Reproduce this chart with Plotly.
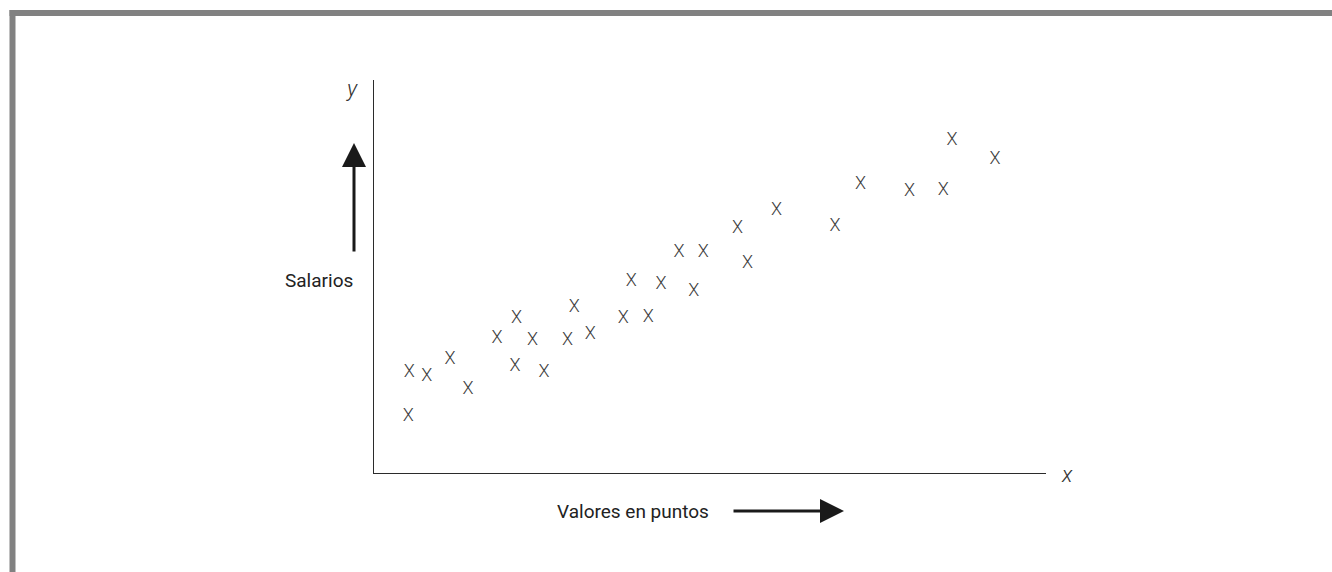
import plotly.graph_objects as go

# Puntuación (valores en puntos) y salario de cada puesto, en unidades relativas 0-100
puntos = [5.25, 7.84, 11.3, 14.0, 5.1, 18.3, 21.2, 21.0, 23.6, 25.3,
          28.8, 29.8, 32.2, 37.1, 38.3, 40.8, 42.7, 45.4, 49.0, 47.6,
          54.1, 55.6, 59.9, 68.6, 72.4, 79.7, 84.7, 86.0, 92.4]
salarios = [25.5, 24.5, 28.9, 21.3, 14.5, 34.1, 39.3, 27.2, 33.7, 25.7,
            33.6, 42.2, 35.3, 39.2, 48.7, 39.6, 48.0, 56.2, 56.1, 46.2,
            62.2, 53.4, 66.7, 62.8, 73.5, 71.6, 72.0, 84.7, 79.8]

W, H = 1332, 572
FONT = "Roboto, Liberation Sans, sans-serif"


def px(x):
    return x / W


def py(y):
    return 1 - y / H


fig = go.Figure()
fig.add_trace(go.Scatter(
    x=puntos, y=salarios, mode="text", text=["X"] * len(puntos),
    textposition="middle center",
    textfont=dict(family=FONT, size=18, color="#3c3c3c", weight=300),
    hoverinfo="skip", showlegend=False,
))

axis_common = dict(showgrid=False, zeroline=False, showticklabels=False,
                   ticks="", showline=True, linecolor="#2b2b2b", linewidth=1.3)
fig.update_xaxes(range=[0, 100], domain=[px(374), px(1046)], **axis_common)
fig.update_yaxes(range=[0, 100], domain=[py(473), py(80)], **axis_common)

annotations = [
    dict(x=px(318.5), y=py(280.5), text="Salarios"),
    dict(x=px(633), y=py(511), text="Valores en puntos"),
]
for a in annotations:
    a.update(xref="paper", yref="paper", showarrow=False,
             xanchor="center", yanchor="middle",
             font=dict(family=FONT, size=19, color="#222222"))

for t, (cx, cy) in (("y", (352, 88)), ("x", (1066.5, 474))):
    annotations.append(dict(
        x=px(cx), y=py(cy), xref="paper", yref="paper", showarrow=False,
        xanchor="center", yanchor="middle",
        text=f"<i>{t}</i>",
        font=dict(family=FONT, size=22, color="#333333", weight=300)))

# flechas de dirección junto a los rótulos de los ejes
arrow_style = dict(xref="paper", yref="paper", axref="pixel", ayref="pixel",
                   showarrow=True, arrowhead=2, arrowsize=1.6, arrowwidth=3,
                   arrowcolor="#1a1a1a", text="")
annotations.append(dict(x=px(354), y=py(143), ax=0, ay=110, **arrow_style))
annotations.append(dict(x=px(844), y=py(511), ax=-112, ay=0, **arrow_style))

border = "#818181"
shapes = [
    dict(type="rect", xref="paper", yref="paper", x0=px(9.5), x1=1,
         y0=py(16), y1=py(10), fillcolor=border, line=dict(width=0)),
    dict(type="rect", xref="paper", yref="paper", x0=px(9.5), x1=px(15.5),
         y0=0, y1=py(10), fillcolor=border, line=dict(width=0)),
]

fig.update_layout(
    width=W, height=H, margin=dict(l=0, r=0, t=0, b=0),
    paper_bgcolor="white", plot_bgcolor="white",
    annotations=annotations, shapes=shapes,
)

fig.write_html("out.html", config={"displayModeBar": False})
